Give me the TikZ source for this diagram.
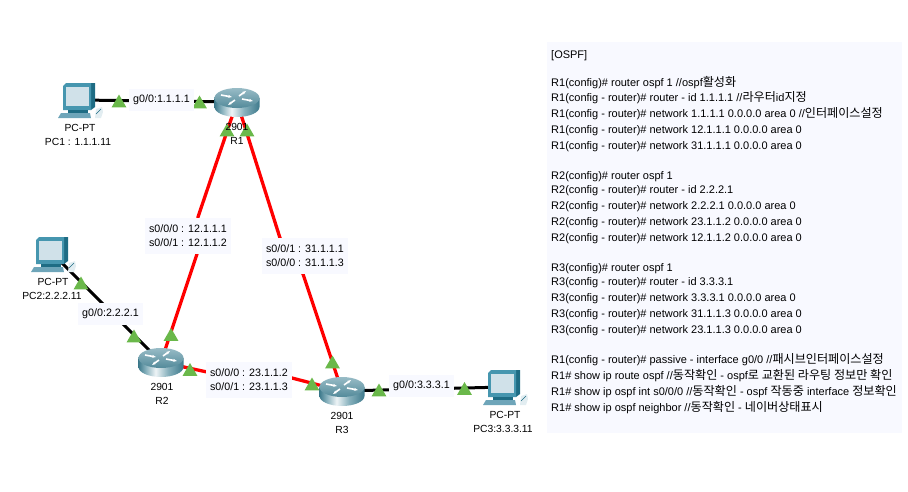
\documentclass[tikz,border=0pt]{standalone}
\usepackage{fontspec}
\setmainfont{Liberation Sans}
\newfontfamily\krfont{Noto Sans CJK KR}
\usetikzlibrary{shapes.geometric, arrows.meta, positioning}
\definecolor{panel}{RGB}{248, 249, 255}
\definecolor{serial}{RGB}{255, 0, 0}
\definecolor{linkup}{RGB}{106, 184, 74}
\definecolor{routerdark}{RGB}{62, 122, 140}
\definecolor{routermid}{RGB}{134, 176, 188}
\definecolor{routerlight}{RGB}{238, 244, 246}
\definecolor{pcframe}{RGB}{70, 150, 175}
\definecolor{pcside}{RGB}{30, 108, 132}
\definecolor{pcscreen}{RGB}{208, 225, 233}
\definecolor{pcbase}{RGB}{110, 165, 185}
\pgfdeclarehorizontalshading{routerbody}{100bp}{
    color(0bp)=(routerdark); color(25bp)=(routerdark); color(33bp)=(routermid);
    color(44bp)=(routerlight); color(58bp)=(routermid); color(75bp)=(routerdark);
    color(100bp)=(routerdark)}
\newcommand{\kr}[1]{{\krfont\fontsize{12.1}{13}\selectfont #1}}
\tikzset{
    devnode/.style={inner sep=0pt, minimum size=0pt},
    devtext/.style={font=\fontsize{10.3}{13}\selectfont, inner sep=0pt, text height=8pt, text depth=0pt},
    ethlink/.style={black, line width=3pt},
    seriallink/.style={serial, line width=3.3pt},
    porttri/.style={regular polygon, regular polygon sides=3, minimum size=17pt,
        inner sep=0pt, fill=linkup},
    ifbox/.style={fill=panel, inner sep=0pt, align=center, minimum width=65pt, minimum height=22pt,
        font=\fontsize{10.7}{14}\selectfont},
    ifboxtwo/.style={ifbox, minimum width=86pt, minimum height=36pt},
    configline/.style={anchor=west, inner sep=0pt, text height=8pt, text depth=0pt,
        font=\fontsize{11}{13}\selectfont},
    routericon/.pic={
        \path[shading=routerbody] (-22.5,-4) -- (-22.5,5) arc[start angle=180, end angle=360, x radius=22.5, y radius=-10]
            -- (22.5,-4) -- cycle;
        \path[top color=routermid!85!white, bottom color=routerdark!70!routermid] (0,-4) ellipse[x radius=22.5, y radius=10];
        \draw[white, line width=1.6pt, -{Stealth[length=4pt]}] (-16,-7) -- (-5,-5);
        \draw[white, line width=1.6pt, -{Stealth[length=4pt]}] (5,-3) -- (16,-1);
        \draw[white, line width=1.6pt, -{Stealth[length=4pt]}] (-2,-2) -- (-9,3);
        \draw[white, line width=1.6pt, -{Stealth[length=4pt]}] (2,-6) -- (9,-11);
    },
    pcicon/.pic={
        \fill[pcside] (11,-17) -- (15,-17) -- (15,7) -- (11,10) -- cycle;
        \fill[pcframe] (-17,-14) -- (-14,-17) -- (11,-17) -- (11,10) -- (-17,10) -- cycle;
        \fill[pcscreen] (-14,-13) -- (9,-13) -- (9,6) -- (-14,6) -- cycle;
        \fill[pcside] (-12,10) -- (8,10) -- (8,13) -- (-12,13) -- cycle;
        \fill[pcbase] (-22,18) -- (-19,13) -- (10,13) -- (11,18) -- cycle;
        \fill[white!80!pcbase] (15,18) -- (16,9) -- (22,7) -- (23,12) -- (21,18) -- cycle;
        \draw[pcside, line width=0.6pt] (16,14) -- (21,9);
    }
}
\begin{document}
\begin{tikzpicture}[x=1pt, y=-1pt]
    \useasboundingbox (0,0) rectangle (908,491);

    % Devices
    \node[devnode] (pc1) at (80,100) {};
    \node[devnode] (pc2) at (53,254) {};
    \node[devnode] (pc3) at (505,387) {};
    \node[devnode] (r1) at (237,102) {};
    \node[devnode] (r2) at (161,362) {};
    \node[devnode] (r3) at (342,391) {};

    % Bends hidden under the labels
    \coordinate (bendonea) at (198,217);
    \coordinate (bendoneb) at (197,254);
    \coordinate (bendtwoa) at (280,238);
    \coordinate (bendtwob) at (303,274);
    \coordinate (bendthreea) at (207,372);
    \coordinate (bendthreeb) at (292,378);

    % Links
    \draw[ethlink] (pc1) -- (r1);
    \draw[ethlink] (pc2) -- (r2);
    \draw[ethlink] (pc3) -- (r3);
    \draw[seriallink] (r1) -- (bendonea) -- (bendoneb) -- (r2);
    \draw[seriallink] (r1) -- (bendtwoa) -- (bendtwob) -- (r3);
    \draw[seriallink] (r2) -- (bendthreea) -- (bendthreeb) -- (r3);

    % Icons
    \pic at (pc1) {pcicon};
    \pic at (pc2) {pcicon};
    \pic at (pc3) {pcicon};
    \pic at (r1) {routericon};
    \pic at (r2) {routericon};
    \pic at (r3) {routericon};

    % Port lights
    \foreach \tname/\xpos/\ypos in {ta/119/103, tb/199.5/104, tc/227/132, td/247/132, te/171/336.5, tf/134/338,
        tg/81/285, th/190/371.5, ti/312/386, tj/332.5/364, tk/379/392, tl/464.5/390.5} {
        \node[porttri] (\tname) at (\xpos,\ypos) {};
    }

    % Interface labels
    \node[ifbox] (ifrone) at (161.5,100) {g0/0:1.1.1.1};
    \node[ifbox] (ifrtwo) at (110.5,314) {g0/0:2.2.2.1};
    \node[ifbox] (ifrthree) at (421.5,386) {g0/0:3.3.3.1};
    \node[ifboxtwo] (ifonetwo) at (188,235.5) {s0/0/0 : 12.1.1.1\\s0/0/1 : 12.1.1.2};
    \node[ifboxtwo] (ifonethree) at (305,256) {s0/0/1 : 31.1.1.1\\s0/0/0 : 31.1.1.3};
    \node[ifboxtwo] (iftwothree) at (249,379.5) {s0/0/0 : 23.1.1.2\\s0/0/1 : 23.1.1.3};

    % Device names
    \node[devtext] (pconetype) at (80,127) {PC-PT};
    \node[devtext] (pconename) at (78,141) {PC1 : 1.1.1.11};
    \node[devtext] (pctwotype) at (53,281) {PC-PT};
    \node[devtext] (pctwoname) at (52,295) {PC2:2.2.2.11};
    \node[devtext] (pcthreetype) at (505,414) {PC-PT};
    \node[devtext] (pcthreename) at (503,428) {PC3:3.3.3.11};
    \node[devtext] (ronetype) at (237,126) {2901};
    \node[devtext] (ronename) at (237,140) {R1};
    \node[devtext] (rtwotype) at (162,386) {2901};
    \node[devtext] (rtwoname) at (162,400) {R2};
    \node[devtext] (rthreetype) at (342,415) {2901};
    \node[devtext] (rthreename) at (342,429) {R3};

    % Config panel
    \node[fill=panel, inner sep=0pt, minimum width=355pt, minimum height=391pt] (config) at (724.5,237.5) {};
    \foreach \ypos/\linetext in {
        54/{[OSPF]},
        82/{R1(config)\# router ospf 1 //ospf\kr{활성화}},
        97/{R1(config - router)\# router - id 1.1.1.1 //\kr{라우터}id\kr{지정}},
        113/{R1(config - router)\# network 1.1.1.1 0.0.0.0 area 0 //\kr{인터페이스설정}},
        129/{R1(config - router)\# network 12.1.1.1 0.0.0.0 area 0},
        145/{R1(config - router)\# network 31.1.1.1 0.0.0.0 area 0},
        175/{R2(config)\# router ospf 1},
        189/{R2(config - router)\# router - id 2.2.2.1},
        205/{R2(config - router)\# network 2.2.2.1 0.0.0.0 area 0},
        221/{R2(config - router)\# network 23.1.1.2 0.0.0.0 area 0},
        237/{R2(config - router)\# network 12.1.1.2 0.0.0.0 area 0},
        267/{R3(config)\# router ospf 1},
        281/{R3(config - router)\# router - id 3.3.3.1},
        297/{R3(config - router)\# network 3.3.3.1 0.0.0.0 area 0},
        313/{R3(config - router)\# network 31.1.1.3 0.0.0.0 area 0},
        329/{R3(config - router)\# network 23.1.1.3 0.0.0.0 area 0},
        359/{R1(config - router)\# passive - interface g0/0 //\kr{패시브인터페이스설정}},
        375/{R1\# show ip route ospf //\kr{동작확인} - ospf\kr{로 교환된 라우팅 정보만 확인}},
        391/{R1\# show ip ospf int s0/0/0 //\kr{동작확인} - ospf \kr{작동중} interface \kr{정보확인}},
        407/{R1\# show ip ospf neighbor //\kr{동작확인} - \kr{네이버상태표시}}} {
        \node[configline] (line\ypos) at (551,\ypos) {\linetext};
    }
\end{tikzpicture}
\end{document}
